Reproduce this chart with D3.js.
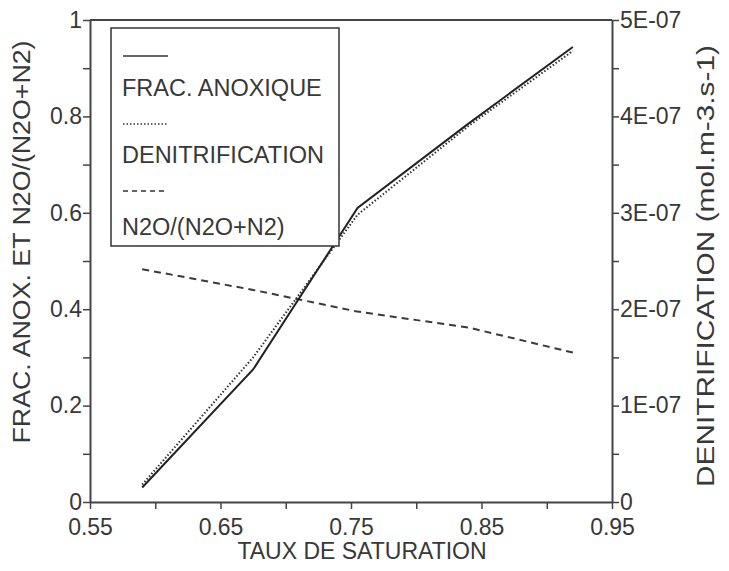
<!DOCTYPE html>
<html><head><meta charset="utf-8">
<script src="https://cdn.jsdelivr.net/npm/d3@7"></script>
<style>
html,body{margin:0;padding:0;background:#fff;}
svg{display:block;font-family:"Liberation Sans",Arial,Helvetica,sans-serif;}
</style></head>
<body><svg id="c" width="729" height="571"></svg>
<script>
// Data
const saturation = [0.59, 0.675, 0.755, 0.84, 0.92];
const fracAnoxique = [0.03, 0.275, 0.61, 0.785, 0.944];
const denitrification = [1.8e-8, 1.5e-7, 2.98e-7, 3.9e-7, 4.68e-7];
const n2oRatio = [0.483, 0.44, 0.395, 0.362, 0.31];

const xTicks = [0.55, 0.65, 0.75, 0.85, 0.95];
const xMinor = [0.6, 0.7, 0.8, 0.9];
const yLeftTicks = [0, 0.2, 0.4, 0.6, 0.8, 1];
const yLeftLabels = ["0", "0.2", "0.4", "0.6", "0.8", "1"];
const yLeftMinor = [0.1, 0.3, 0.5, 0.7, 0.9];
const yRightTicks = [0, 1e-7, 2e-7, 3e-7, 4e-7, 5e-7];
const yRightLabels = ["0", "1E-07", "2E-07", "3E-07", "4E-07", "5E-07"];
const yRightMinor = [0.5e-7, 1.5e-7, 2.5e-7, 3.5e-7, 4.5e-7];

const legendLabels = ["FRAC. ANOXIQUE", "DENITRIFICATION", "N2O/(N2O+N2)"];

const svg = d3.select("#c");
const L = 90, R = 612, T = 20, B = 502;
const x = d3.scaleLinear().domain([0.55, 0.95]).range([L, R]);
const yL = d3.scaleLinear().domain([0, 1]).range([B, T]);
const yR = d3.scaleLinear().domain([0, 5e-7]).range([B, T]);

const axisColor = "#444";
const textColor = "#383838";
const fs = 23;

// frame top
svg.append("line").attr("x1", L).attr("x2", R).attr("y1", T).attr("y2", T)
  .attr("stroke", axisColor).attr("stroke-width", 2);

function styleAxis(g) {
  g.select(".domain").attr("stroke", axisColor).attr("stroke-width", 2);
  g.selectAll(".tick line").attr("stroke", axisColor).attr("stroke-width", 1.5);
  g.selectAll(".tick text").attr("fill", textColor).style("font-size", fs + "px")
    .style("font-family", '"Liberation Sans",Arial,sans-serif');
}
function minor(g) {
  g.select(".domain").remove();
  g.selectAll(".tick line").attr("stroke", axisColor).attr("stroke-width", 1.5);
}

// x axis
const gx = svg.append("g").attr("transform", `translate(0,${B})`)
  .call(d3.axisBottom(x).tickValues(xTicks).tickFormat(d3.format(".2f")).tickSize(7).tickSizeOuter(0).tickPadding(3));
styleAxis(gx);
gx.selectAll(".tick text").attr("dy", "1.0em");
svg.append("g").attr("transform", `translate(0,${B})`)
  .call(d3.axisBottom(x).tickValues(xMinor).tickFormat("").tickSize(7).tickSizeOuter(0))
  .call(minor);

// left axis
const gl = svg.append("g").attr("transform", `translate(${L},0)`)
  .call(d3.axisLeft(yL).tickValues(yLeftTicks).tickFormat((d, i) => yLeftLabels[i]).tickSize(7).tickSizeOuter(0).tickPadding(1));
styleAxis(gl);
svg.append("g").attr("transform", `translate(${L},0)`)
  .call(d3.axisLeft(yL).tickValues(yLeftMinor).tickFormat("").tickSize(7).tickSizeOuter(0))
  .call(minor);

// right axis
const gr = svg.append("g").attr("transform", `translate(${R},0)`)
  .call(d3.axisRight(yR).tickValues(yRightTicks).tickFormat((d, i) => yRightLabels[i]).tickSize(7).tickSizeOuter(0).tickPadding(1));
styleAxis(gr);
svg.append("g").attr("transform", `translate(${R},0)`)
  .call(d3.axisRight(yR).tickValues(yRightMinor).tickFormat("").tickSize(7).tickSizeOuter(0))
  .call(minor);

// axis titles
svg.append("text").attr("x", 362).attr("y", 559).attr("text-anchor", "middle")
  .attr("fill", textColor).style("font-size", fs + "px").text("TAUX DE SATURATION");
svg.append("text").attr("transform", "translate(30,242) rotate(-90)").attr("text-anchor", "middle")
  .attr("fill", textColor).style("font-size", fs + "px")
  .attr("textLength", 403).attr("lengthAdjust", "spacingAndGlyphs")
  .text("FRAC. ANOX. ET N2O/(N2O+N2)");
svg.append("text").attr("transform", "translate(714,266) rotate(-90)").attr("text-anchor", "middle")
  .attr("fill", textColor).style("font-size", fs + "px")
  .attr("textLength", 442).attr("lengthAdjust", "spacingAndGlyphs")
  .text("DENITRIFICATION (mol.m-3.s-1)");

// lines
const lineL = d3.line().x((d, i) => x(saturation[i])).y(d => yL(d));
const lineR = d3.line().x((d, i) => x(saturation[i])).y(d => yR(d));
svg.append("path").datum(n2oRatio).attr("d", lineL).attr("fill", "none")
  .attr("stroke", "#3a3a3a").attr("stroke-width", 2).attr("stroke-dasharray", "7,5");
svg.append("path").datum(denitrification).attr("d", lineR).attr("fill", "none")
  .attr("stroke", "#333").attr("stroke-width", 2).attr("stroke-dasharray", "1.5,2");
svg.append("path").datum(fracAnoxique).attr("d", lineL).attr("fill", "none")
  .attr("stroke", "#222").attr("stroke-width", 2);

// legend
const lg = svg.append("g");
lg.append("rect").attr("x", 111).attr("y", 28).attr("width", 228).attr("height", 218)
  .attr("fill", "#fff").attr("stroke", "#333").attr("stroke-width", 1.5);
const dashes = [null, "1.5,2", "5,4"];
const sampleY = [56, 124, 191];
const textY = [96, 163, 235];
legendLabels.forEach((lab, i) => {
  lg.append("line").attr("x1", 123).attr("x2", 168).attr("y1", sampleY[i]).attr("y2", sampleY[i])
    .attr("stroke", "#333").attr("stroke-width", 1.5).attr("stroke-dasharray", dashes[i]);
  lg.append("text").attr("x", 122).attr("y", textY[i]).attr("fill", textColor)
    .style("font-size", "23.5px").text(lab);
});
</script></body></html>
